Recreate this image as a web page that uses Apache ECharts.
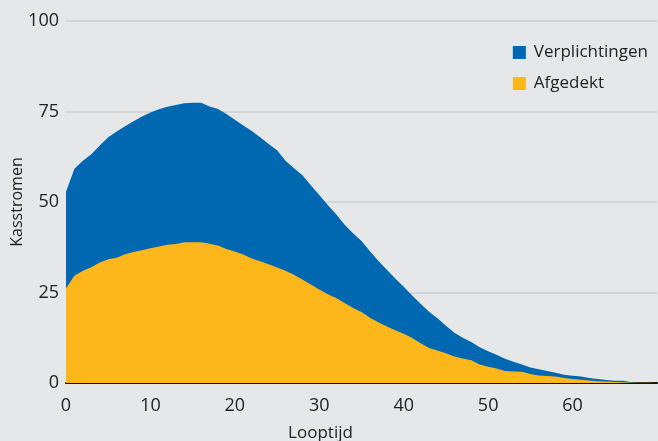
<!DOCTYPE html>
<html>
<head>
<meta charset="utf-8">
<script src="https://cdn.jsdelivr.net/npm/echarts@6/dist/echarts.min.js"></script>
<style>
html,body{margin:0;padding:0;background:#e6e7e9;}
#c{width:658px;height:441px;}
</style>
</head>
<body>
<div id="c"></div>
<script>
const looptijd = [];
for (let i = 0; i <= 70; i++) looptijd.push(i);
const verplichtingen = [52.8,59.2,61.4,63.2,65.6,67.9,69.5,70.9,72.3,73.6,
  74.7,75.6,76.3,76.8,77.3,77.4,77.4,76.4,75.7,74.3,
  72.7,71.1,69.6,67.9,66.0,64.3,61.4,59.3,57.4,54.6,
  51.9,49.2,46.6,43.7,41.4,39.2,36.4,33.7,31.3,28.9,
  26.6,24.2,21.9,19.7,17.9,15.8,13.9,12.5,11.3,9.9,
  8.8,7.8,6.7,5.9,5.1,4.3,3.8,3.3,2.8,2.3,
  2.0,1.8,1.4,1.1,0.8,0.6,0.6,0.2,0,0,0];
const afgedekt = [26.2,29.6,31.0,32.0,33.3,34.2,34.6,35.6,36.2,36.7,
  37.2,37.7,38.2,38.4,38.9,38.9,38.9,38.5,38.0,37.0,
  36.3,35.5,34.4,33.6,32.8,31.9,31.0,29.9,28.6,27.2,
  25.8,24.5,23.5,22.1,20.7,19.6,18.0,16.8,15.6,14.6,
  13.6,12.4,11.0,9.7,9.0,8.2,7.3,6.8,6.3,5.1,
  4.5,4.0,3.3,3.2,3.1,2.5,2.1,1.9,1.8,1.4,
  1.1,0.9,0.7,0.5,0.4,0.3,0.2,0.1,0.1,0.1,0.1];
const yTicks = [0,25,50,75,100];
const xTicks = [0,10,20,30,40,50,60];

const FONT = '"Open Sans", sans-serif';
const chart = echarts.init(document.getElementById('c'));
chart.setOption({
  backgroundColor: '#e6e7e9',
  animation: false,
  grid: {left: 66, right: 1, top: 21, bottom: 58, containLabel: false, outerBoundsMode: 'none'},
  legend: {
    orient: 'vertical', right: 5, top: 39,
    itemWidth: 13, itemHeight: 13, itemGap: 14,
    icon: 'rect',
    textStyle: {fontFamily: FONT, fontSize: 17, color: '#222', padding: [0, 0, 0, 3]},
    data: ['Verplichtingen', 'Afgedekt']
  },
  xAxis: {
    type: 'value', min: 0, max: 70, interval: 10,
    name: 'Looptijd', nameLocation: 'middle', nameGap: 42, nameMoveOverlap: false,
    nameTextStyle: {fontFamily: FONT, fontSize: 17, color: '#222', padding: [0, 82, 0, 0]},
    axisLine: {show: true, onZero: false, lineStyle: {color: '#111', width: 2}},
    axisTick: {show: false},
    splitLine: {show: false},
    axisLabel: {fontFamily: FONT, fontSize: 18, color: '#222', margin: 14,
      formatter: v => xTicks.includes(v) ? String(v) : ''}
  },
  yAxis: {
    type: 'value', min: 0, max: 100, interval: 25,
    name: 'Kasstromen', nameLocation: 'middle', nameGap: 41, nameMoveOverlap: false,
    nameTextStyle: {fontFamily: FONT, fontSize: 16, color: '#222'},
    axisLine: {show: false},
    axisTick: {show: false},
    splitLine: {show: true, lineStyle: {color: '#d3d4d6', width: 2}},
    axisLabel: {fontFamily: FONT, fontSize: 18, color: '#222', margin: 7,
      formatter: v => yTicks.includes(v) ? String(v) : ''}
  },
  series: [
    {
      name: 'Verplichtingen', type: 'line', showSymbol: false,
      lineStyle: {width: 0}, itemStyle: {color: '#0067b1'},
      areaStyle: {color: '#0067b1', opacity: 1},
      data: looptijd.map((x, i) => [x, verplichtingen[i]])
    },
    {
      name: 'Afgedekt', type: 'line', showSymbol: false,
      lineStyle: {width: 0}, itemStyle: {color: '#fdb71a'},
      areaStyle: {color: '#fdb71a', opacity: 1},
      data: looptijd.map((x, i) => [x, afgedekt[i]])
    }
  ]
});
</script>
</body>
</html>
